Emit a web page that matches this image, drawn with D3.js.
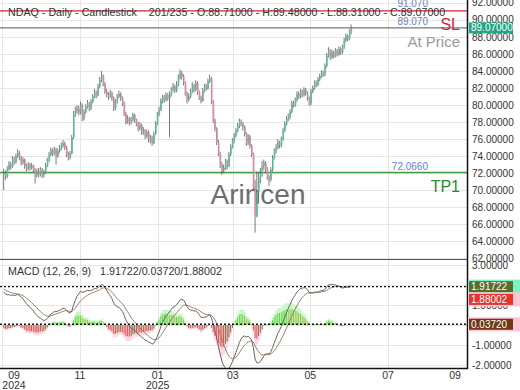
<!DOCTYPE html>
<html>
<head>
<meta charset="utf-8">
<script src="https://cdn.jsdelivr.net/npm/d3@7/dist/d3.min.js"></script>
<style>
    body { margin: 0; background: #fff; }
    svg { display: block; font-family: "Liberation Sans", Arial, sans-serif; }
</style>
</head>
<body>
<div id="chart"></div>
<script>
// --- data ---
const firstOpen = 71.8;
const closes = [
    72.0, 71.6, 72.5, 73.0, 72.8, 73.6, 73.3, 74.0, 74.4, 73.8,
    73.2, 73.6, 72.8, 72.5, 73.0, 72.6, 72.9, 72.4, 71.8, 72.2,
    71.9, 72.4, 71.8, 72.0, 72.9, 73.5, 74.2, 74.7, 74.3, 74.8,
    74.0, 74.6, 74.9, 75.2, 75.5, 75.0, 74.2, 73.8, 74.3, 76.2,
    78.9, 79.3, 79.6, 79.1, 80.0, 78.4, 79.2, 79.8, 80.2, 79.6,
    80.4, 81.0, 81.5, 81.1, 82.2, 82.9, 83.4, 82.5, 81.6, 81.2,
    81.0, 81.4, 80.8, 79.6, 80.4, 81.0, 81.3, 80.8, 80.2, 79.0,
    78.0, 78.4, 77.9, 78.3, 78.8, 78.2, 77.8, 77.2, 77.6, 76.8,
    77.0, 76.3, 76.8, 75.9, 76.2, 75.5, 76.6, 77.8, 78.9, 79.4,
    80.5, 80.9, 80.6, 81.2, 80.8, 81.3, 81.8, 82.2, 81.7, 82.4,
    83.2, 83.8, 83.4, 82.6, 81.4, 80.6, 81.0, 81.6, 82.3, 81.8,
    82.6, 81.5, 80.9, 80.5, 81.7, 82.2, 82.0, 82.8, 83.1, 80.4,
    78.2, 77.2, 75.6, 74.3, 73.0, 72.3, 72.6, 73.4, 72.8, 74.2,
    75.1, 75.8, 76.4, 77.0, 77.6, 78.1, 77.8, 77.4, 76.6, 75.5,
    76.3, 75.2, 74.2, 70.5, 67.0, 69.8, 71.5, 72.0, 72.8, 73.2,
    72.5, 71.6, 71.2, 72.4, 73.8, 74.6, 75.0, 75.6, 75.2, 76.0,
    77.0, 77.8, 78.4, 78.6, 79.2, 80.2, 80.0, 80.6, 81.3, 81.0,
    81.6, 81.2, 81.8, 81.4, 80.8, 80.2, 81.6, 82.0, 82.6, 82.4,
    83.0, 83.4, 83.8, 83.6, 84.6, 85.8, 86.4, 85.6, 86.2, 85.8,
    86.4, 86.0, 86.6, 86.2, 86.8, 87.6, 88.1, 87.8, 88.71, 89.07
];
const highs = [
    72.5, 72.3, 72.8, 73.4, 73.3, 74.0, 73.9, 74.3, 74.8, 74.6,
    74.0, 73.9, 73.7, 73.1, 73.3, 73.2, 73.2, 73.0, 72.6, 72.5,
    72.6, 72.7, 72.6, 72.4, 73.2, 73.8, 74.5, 75.0, 74.9, 75.1,
    75.0, 74.9, 75.3, 75.6, 75.9, 75.7, 75.2, 74.5, 74.6, 76.5,
    79.3, 79.8, 80.0, 79.9, 80.4, 80.2, 79.5, 80.1, 80.6, 80.4,
    80.7, 81.3, 81.9, 81.7, 82.5, 83.3, 84.0, 83.6, 82.7, 81.9,
    81.5, 81.8, 81.6, 81.0, 80.7, 81.3, 81.7, 81.5, 81.0, 80.4,
    79.2, 78.8, 78.6, 78.6, 79.1, 79.0, 78.4, 78.0, 78.0, 77.8,
    77.4, 77.2, 77.1, 77.0, 76.5, 76.4, 76.9, 78.1, 79.2, 79.8,
    80.8, 81.2, 81.2, 81.5, 81.4, 81.6, 82.1, 82.6, 82.4, 82.8,
    83.6, 84.2, 84.0, 83.6, 82.8, 81.6, 81.4, 81.9, 82.7, 82.5,
    82.9, 82.8, 81.7, 81.1, 82.0, 82.5, 82.5, 83.1, 83.6, 83.3,
    80.6, 78.4, 77.4, 75.9, 74.5, 73.3, 73.0, 73.7, 73.6, 74.5,
    75.4, 76.1, 76.7, 77.3, 77.9, 78.4, 78.3, 78.0, 77.6, 76.8,
    76.6, 76.5, 75.4, 74.4, 71.2, 72.2, 72.0, 72.6, 73.4, 73.6,
    73.4, 72.7, 71.8, 72.7, 74.1, 74.9, 75.4, 76.0, 75.8, 76.3,
    77.3, 78.1, 78.7, 79.0, 79.5, 80.5, 80.5, 80.9, 81.6, 81.6,
    81.9, 81.8, 82.1, 82.0, 81.6, 81.0, 81.9, 82.3, 82.9, 82.9,
    83.3, 83.7, 84.1, 84.0, 84.9, 86.1, 86.8, 86.6, 86.5, 86.4,
    86.7, 86.6, 86.9, 86.8, 87.1, 87.9, 88.4, 88.3, 88.9, 89.48
];
const lows = [
    70.0, 71.2, 71.4, 72.3, 72.4, 72.6, 73.0, 73.1, 73.8, 73.5,
    72.9, 73.0, 72.5, 72.2, 72.3, 72.3, 72.4, 72.1, 70.8, 71.5,
    71.5, 71.6, 71.4, 71.5, 71.9, 72.7, 73.3, 74.0, 74.0, 74.1,
    73.0, 73.8, 74.4, 74.7, 75.0, 74.7, 73.9, 73.5, 73.6, 74.2,
    76.0, 78.6, 79.0, 78.8, 78.9, 78.1, 78.2, 79.0, 79.6, 79.3,
    79.4, 80.2, 80.8, 80.8, 81.0, 82.0, 82.7, 82.2, 81.3, 80.9,
    80.6, 80.8, 80.5, 79.3, 79.4, 80.2, 80.8, 80.5, 79.9, 78.7,
    77.7, 77.8, 77.6, 77.7, 78.1, 77.9, 77.5, 76.9, 77.0, 76.5,
    76.5, 76.0, 76.1, 75.6, 75.5, 75.2, 75.4, 76.5, 77.6, 78.7,
    79.3, 80.2, 80.3, 80.4, 80.5, 76.2, 81.0, 81.6, 81.4, 81.5,
    82.2, 83.0, 83.0, 82.3, 81.1, 80.2, 80.4, 80.8, 81.4, 81.5,
    81.6, 81.2, 80.6, 80.2, 80.4, 81.5, 81.7, 81.8, 82.6, 80.1,
    77.9, 76.9, 75.3, 74.0, 72.6, 71.8, 72.0, 72.4, 72.4, 72.7,
    74.0, 74.9, 75.5, 76.2, 76.8, 77.3, 77.5, 77.0, 76.3, 75.2,
    75.3, 74.9, 73.9, 70.0, 65.0, 66.8, 68.5, 70.8, 71.6, 72.4,
    72.1, 71.2, 70.5, 71.0, 72.2, 73.6, 74.3, 74.8, 74.9, 75.0,
    75.8, 76.8, 77.6, 78.1, 78.3, 79.0, 79.7, 79.8, 80.4, 80.7,
    80.8, 80.9, 81.0, 81.1, 80.5, 79.9, 80.0, 81.4, 81.8, 82.1,
    82.2, 82.8, 83.2, 83.3, 83.4, 84.4, 85.6, 85.3, 85.4, 85.5,
    85.6, 85.7, 85.8, 85.9, 86.0, 86.6, 87.4, 87.5, 87.6, 88.31
];
// closes before the first drawn bar, only used to warm up the MACD
const warmup = [
    60.2, 60.5, 60.8, 61.0, 61.5, 61.3, 62.0, 62.4, 62.8, 63.1,
    63.5, 63.2, 63.8, 64.0, 63.6, 64.2, 66.8, 67.2, 67.5, 67.0,
    66.2, 65.4, 65.0, 65.8, 66.5, 67.0, 67.8, 68.3, 68.9, 69.4,
    69.8, 70.2, 70.0, 70.6, 71.0, 71.3, 70.8, 71.4, 71.7, 71.5,
    71.9, 72.3, 72.1, 71.8, 72.2
];
const firstBar = new Date(2024, 8, 2);
const lastBar = new Date(2025, 5, 2);
const monthTicks = [
    new Date(2024, 8, 1), new Date(2024, 10, 1), new Date(2025, 0, 1), new Date(2025, 2, 1),
    new Date(2025, 4, 1), new Date(2025, 6, 1), new Date(2025, 8, 1)
];
const priceTicks = [62, 64, 66, 68, 70, 72, 74, 76, 78, 80, 82, 84, 86, 88, 90, 92];
const macdTicks = [3, 2, 1, 0, -1, -2];
const slLevel = 91.07;
const atPrice = 89.07;
const tp1Level = 72.066;
const macdShown = { macd: 1.91722, hist: 0.03720, signal: 1.88002 };
const titleText = 'NDAQ - Daily - Candlestick    201/235 - O:88.71000 - H:89.48000 - L:88.31000 - C:89.07000';

// --- layout ---
const W = 520, H = 390;
const plotR = 467;
const mainTop = 0, mainBot = 259;
const macdTop = 259, macdBot = 368;

const svg = d3.select('#chart').append('svg').attr('width', W).attr('height', H);
const defs = svg.append('defs');
defs.append('clipPath').attr('id', 'clipMain')
    .append('rect').attr('x', 0).attr('y', mainTop).attr('width', plotR).attr('height', mainBot - mainTop);
defs.append('clipPath').attr('id', 'clipMacd')
    .append('rect').attr('x', 0).attr('y', macdTop).attr('width', plotR).attr('height', macdBot - macdTop);

const x = d3.scaleTime().domain([monthTicks[0], monthTicks[monthTicks.length - 1]]).range([2.4, 466.9]);
const xi = d3.scaleLinear().domain([0, closes.length - 1]).range([x(firstBar), x(lastBar)]);
const y = d3.scaleLinear().domain([61.9, 92.35]).range([mainBot, mainTop]);
const ym = d3.scaleLinear().domain([-2.15, 3.3]).range([macdBot, macdTop]);

const candles = closes.map((c, i) => ({
    i, c,
    o: i === 0 ? firstOpen : closes[i - 1],
    h: highs[i], l: lows[i]
}));

// MACD (12, 26, 9)
function ema(arr, n) {
    const k = 2 / (n + 1);
    const out = [];
    arr.forEach((v, i) => out.push(i === 0 ? v : v * k + out[i - 1] * (1 - k)));
    return out;
}
const all = warmup.concat(closes);
const e12 = ema(all, 12), e26 = ema(all, 26);
const macdAll = e12.map((v, i) => v - e26[i]);
const sigAll = ema(macdAll, 9);
const macd = macdAll.slice(warmup.length);
const signal = sigAll.slice(warmup.length);
const hist = macd.map((v, i) => v - signal[i]);

// --- grids ---
const grid = svg.append('g').attr('stroke', '#e6e6e6').attr('stroke-width', 1);
grid.selectAll('line.hp').data(priceTicks).join('line')
    .attr('x1', 0).attr('x2', plotR)
    .attr('y1', d => Math.round(y(d)) + 0.5).attr('y2', d => Math.round(y(d)) + 0.5);
grid.selectAll('line.hm').data(macdTicks).join('line')
    .attr('x1', 0).attr('x2', plotR)
    .attr('y1', d => Math.round(ym(d)) + 0.5).attr('y2', d => Math.round(ym(d)) + 0.5);
grid.selectAll('line.v').data(monthTicks).join('line')
    .attr('x1', d => Math.round(x(d)) + 0.5).attr('x2', d => Math.round(x(d)) + 0.5)
    .attr('y1', mainTop).attr('y2', macdBot);

// --- main panel ---
const main = svg.append('g').attr('clip-path', 'url(#clipMain)');

main.append('text')
    .attr('x', 258).attr('y', 204).attr('text-anchor', 'middle')
    .attr('font-size', 28).attr('fill', '#555').attr('opacity', 0.85)
    .text('Arincen');

main.append('line')
    .attr('x1', 0).attr('x2', plotR)
    .attr('y1', y(tp1Level)).attr('y2', y(tp1Level))
    .attr('stroke', '#3f9f3f').attr('stroke-width', 1.5);

const upCol = '#55c2ab', dnCol = '#e38a9c';
main.selectAll('line.wick').data(candles).join('line')
    .attr('x1', d => xi(d.i)).attr('x2', d => xi(d.i))
    .attr('y1', d => y(d.h)).attr('y2', d => y(d.l))
    .attr('stroke', '#555').attr('stroke-width', 0.8);
main.selectAll('rect.body').data(candles).join('rect')
    .attr('x', d => xi(d.i) - 0.3)
    .attr('width', 1.4)
    .attr('y', d => y(Math.max(d.o, d.c)))
    .attr('height', d => Math.max(0.8, Math.abs(y(d.o) - y(d.c))))
    .attr('fill', d => d.c >= d.o ? upCol : dnCol);

main.append('line')
    .attr('x1', 0).attr('x2', plotR)
    .attr('y1', y(slLevel)).attr('y2', y(slLevel))
    .attr('stroke', '#d0253a').attr('stroke-width', 1.2);
main.append('line')
    .attr('x1', 0).attr('x2', plotR)
    .attr('y1', y(atPrice)).attr('y2', y(atPrice))
    .attr('stroke', '#777').attr('stroke-width', 1.2);

// level captions
const cap = svg.append('g');
cap.append('text').attr('x', 428).attr('y', y(slLevel) - 4).attr('text-anchor', 'end')
    .attr('font-size', 10).attr('fill', '#6a7fcc').text(slLevel.toFixed(3));
cap.append('text').attr('x', 428).attr('y', y(atPrice) - 3).attr('text-anchor', 'end')
    .attr('font-size', 10).attr('fill', '#6a7fcc').text(atPrice.toFixed(3));
cap.append('text').attr('x', 460).attr('y', 30).attr('text-anchor', 'end')
    .attr('font-size', 16).attr('fill', '#d0253a').text('SL');
cap.append('text').attr('x', 460).attr('y', 47).attr('text-anchor', 'end')
    .attr('font-size', 15).attr('fill', '#999').text('At Price');
cap.append('text').attr('x', 428).attr('y', y(tp1Level) - 3).attr('text-anchor', 'end')
    .attr('font-size', 10).attr('fill', '#6a7fcc').text(tp1Level.toFixed(4));
cap.append('text').attr('x', 460).attr('y', 192).attr('text-anchor', 'end')
    .attr('font-size', 16).attr('fill', '#2a8a2a').text('TP1');

svg.append('text').attr('x', 8).attr('y', 16)
    .attr('font-size', 10.7).attr('fill', '#333')
    .attr('xml:space', 'preserve').style('white-space', 'pre')
    .text(titleText);

// --- MACD panel ---
const mp = svg.append('g').attr('clip-path', 'url(#clipMacd)');
const step = xi(1) - xi(0);
const histCol = (v, i) => {
    const prev = i > 0 ? hist[i - 1] : v;
    if (v >= 0) return v >= prev ? '#5fd94a' : '#9bc24f';
    return v <= prev ? '#e0504a' : '#8a6b45';
};
const shadeCol = v => v >= 0 ? '#c9f7c9' : '#ffd6e2';

mp.selectAll('rect.shade').data(hist).join('rect')
    .attr('x', (d, i) => xi(i) - step / 2)
    .attr('width', step + 0.3)
    .attr('y', d => d >= 0 ? ym(d * 1.4) : ym(0))
    .attr('height', d => Math.abs(ym(d * 1.4) - ym(0)))
    .attr('fill', shadeCol);
mp.selectAll('rect.hist').data(hist).join('rect')
    .attr('x', (d, i) => xi(i) - 0.5)
    .attr('width', 1)
    .attr('y', d => d >= 0 ? ym(d) : ym(0))
    .attr('height', d => Math.abs(ym(d) - ym(0)))
    .attr('fill', histCol);

const lineGen = d3.line().x((d, i) => xi(i)).y(d => ym(d));
mp.append('path').datum(signal).attr('d', lineGen)
    .attr('fill', 'none').attr('stroke', '#9c7f68').attr('stroke-width', 1);
mp.append('path').datum(macd).attr('d', lineGen)
    .attr('fill', 'none').attr('stroke', '#6b645a').attr('stroke-width', 1);

[macdShown.macd, macdShown.hist].forEach(v => {
    mp.append('line')
        .attr('x1', 0).attr('x2', plotR)
        .attr('y1', ym(v)).attr('y2', ym(v))
        .attr('stroke', '#111').attr('stroke-width', 1.4)
        .attr('stroke-dasharray', '2,2');
});

svg.append('text').attr('x', 8).attr('y', 275)
    .attr('font-size', 10.7).attr('fill', '#333')
    .attr('xml:space', 'preserve').style('white-space', 'pre')
    .text(`MACD (12, 26, 9)   ${macdShown.macd.toFixed(5)}/${macdShown.hist.toFixed(5)}/${macdShown.signal.toFixed(5)}`);

// --- frame ---
svg.append('line').attr('x1', 0).attr('x2', plotR).attr('y1', macdTop + 0.5).attr('y2', macdTop + 0.5)
    .attr('stroke', '#555').attr('stroke-width', 1);
svg.append('line').attr('x1', 0).attr('x2', plotR + 1).attr('y1', macdBot + 0.5).attr('y2', macdBot + 0.5)
    .attr('stroke', '#111').attr('stroke-width', 1.5);
svg.append('line').attr('x1', plotR + 0.5).attr('x2', plotR + 0.5).attr('y1', 0).attr('y2', macdBot + 1)
    .attr('stroke', '#111').attr('stroke-width', 1.5);

// --- right axes ---
const ax = svg.append('g').attr('font-size', 10).attr('fill', '#333');
ax.selectAll('text.p').data(priceTicks).join('text')
    .attr('x', 472).attr('y', d => y(d)).attr('dy', '0.35em')
    .text(d => d.toFixed(5));
ax.selectAll('text.m').data(macdTicks).join('text')
    .attr('x', 472).attr('y', d => ym(d)).attr('dy', '0.35em')
    .text(d => d.toFixed(5));

// value tags on the right axis; shift moves a tag off one it would cover
function tag(v, scale, fill, halo, shift = 0) {
    const g = svg.append('g');
    const cy = scale(v) + shift;
    if (halo) {
        g.append('rect').attr('x', 468).attr('y', cy - 7).attr('width', 52).attr('height', 14).attr('fill', halo);
    }
    g.append('rect').attr('x', 469).attr('y', cy - 5.5).attr('width', 44).attr('height', 11).attr('fill', fill);
    g.append('text').attr('x', 471).attr('y', cy).attr('dy', '0.36em')
        .attr('font-size', 10).attr('fill', '#fff').text(v.toFixed(5));
}
tag(atPrice, y, '#22a683', null);
tag(macdShown.macd, ym, '#5c6a2c', '#7df0c4');
tag(macdShown.signal, ym, '#e3342f', '#ffc4d6', 12);
tag(macdShown.hist, ym, '#6e3a14', '#ffc4d6');

// --- time axis ---
const fmtM = d3.timeFormat('%m');
const xa = svg.append('g').attr('font-size', 10.5).attr('fill', '#333').attr('text-anchor', 'middle');
const clampX = v => Math.max(14, Math.min(455, v));
xa.selectAll('text.mo').data(monthTicks).join('text')
    .attr('x', d => clampX(x(d))).attr('y', 379)
    .text(fmtM);
xa.selectAll('text.yr').data(monthTicks.filter(d => d.getMonth() === 0 || d === monthTicks[0])).join('text')
    .attr('x', d => clampX(x(d))).attr('y', 389)
    .text(d3.timeFormat('%Y'));
</script>
</body>
</html>
